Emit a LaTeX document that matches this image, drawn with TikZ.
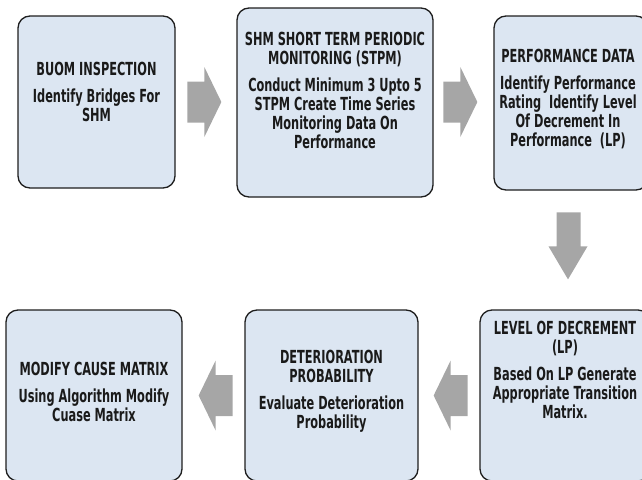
\documentclass[tikz,border=0pt]{standalone}
\usepackage{fontspec}
\newfontfamily\boxfont{DejaVu Sans}[FakeStretch=0.63]
\usetikzlibrary{calc}

\definecolor{boxfill}{HTML}{DCE6F2}
\definecolor{boxline}{HTML}{1E1E1E}
\definecolor{arrowgray}{HTML}{A6A6A6}
\definecolor{txtcol}{HTML}{1A1A1A}

\begin{document}
\begin{tikzpicture}[x=1pt,y=-1pt,
  box/.style={draw=boxline, line width=1.3pt, fill=boxfill,
    rounded corners=12pt, inner sep=0pt},
  txt/.style={align=center, text=txtcol, inner sep=0pt,
    font=\boxfont\bfseries\fontsize{18}{19}\selectfont},
  % horizontal block arrow, tip at the pic origin, pointing right
  hblock/.pic={\fill[arrowgray] (0,0) -- (-17,-35) -- (-17,-20.5) -- (-34,-20.5)
      -- (-34,20.5) -- (-17,20.5) -- (-17,35) -- cycle;},
  % vertical block arrow, tip at the pic origin, pointing down
  vblock/.pic={\fill[arrowgray] (0,0) -- (-19.5,-33) -- (-11.5,-33) -- (-11.5,-67)
      -- (12.5,-67) -- (12.5,-33) -- (19.5,-33) -- cycle;}
]
\useasboundingbox (0,0) rectangle (642,479);

% process boxes, upper row
\node[box, minimum width=157pt, minimum height=172pt] (b1) at (96.5,102) {};
\node[box, minimum width=196pt, minimum height=189pt] (b2) at (335,102.5) {};
\node[box, minimum width=154pt, minimum height=174pt] (b3) at (571,103) {};
% process boxes, lower row
\node[box, minimum width=176pt, minimum height=171pt] (mod) at (94,395.5) {};
\node[box, minimum width=173pt, minimum height=171pt] (det) at (331.5,395.5) {};
\node[box, minimum width=170pt, minimum height=171pt] (lp) at (565,395.5) {};

% box texts
\node[txt] (t1) at (96.5,92) {BUOM INSPECTION\\[8pt]Identify Bridges For\\SHM};
\node[txt] (t2) at (335,90.5) {SHM SHORT TERM PERIODIC\\MONITORING (STPM)\\[8pt]Conduct Minimum 3 Upto 5\\STPM Create Time Series\\Monitoring Data On\\Performance};
\node[txt] (t3) at (568,99.5) {PERFORMANCE DATA\\[8pt]Identify Performance\\Rating\ \ Identify Level\\Of Decrement In\\Performance\ \ (LP)};
\node[txt] (t4) at (565,369.5) {LEVEL OF DECREMENT\\(LP)\\[8pt]Based On LP Generate\\Appropriate Transition\\Matrix.};
\node[txt] (t5) at (331.5,391) {DETERIORATION\\PROBABILITY\\[8pt]Evaluate Deterioration\\Probability};
\node[txt] (t6) at (94,392) {MODIFY CAUSE MATRIX\\[8pt]Using Algorithm Modify\\Cuase Matrix};

% block arrows between the steps, each ending just short of its target box
\coordinate (a1) at ($(b2.west |- b1.center)+(-15,0)$);
\coordinate (a2) at ($(b3.west |- b1.center)+(-16,0)$);
\coordinate (a3) at ($(lp.north)+(3,-30)$);
\coordinate (a4) at ($(det.east)+(15,0)$);
\coordinate (a5) at ($(mod.east)+(16,0)$);
\pic at (a1) {hblock};
\pic at (a2) {hblock};
\pic at (a3) {vblock};
\pic[rotate=180] at (a4) {hblock};
\pic[rotate=180] at (a5) {hblock};
\end{tikzpicture}
\end{document}
